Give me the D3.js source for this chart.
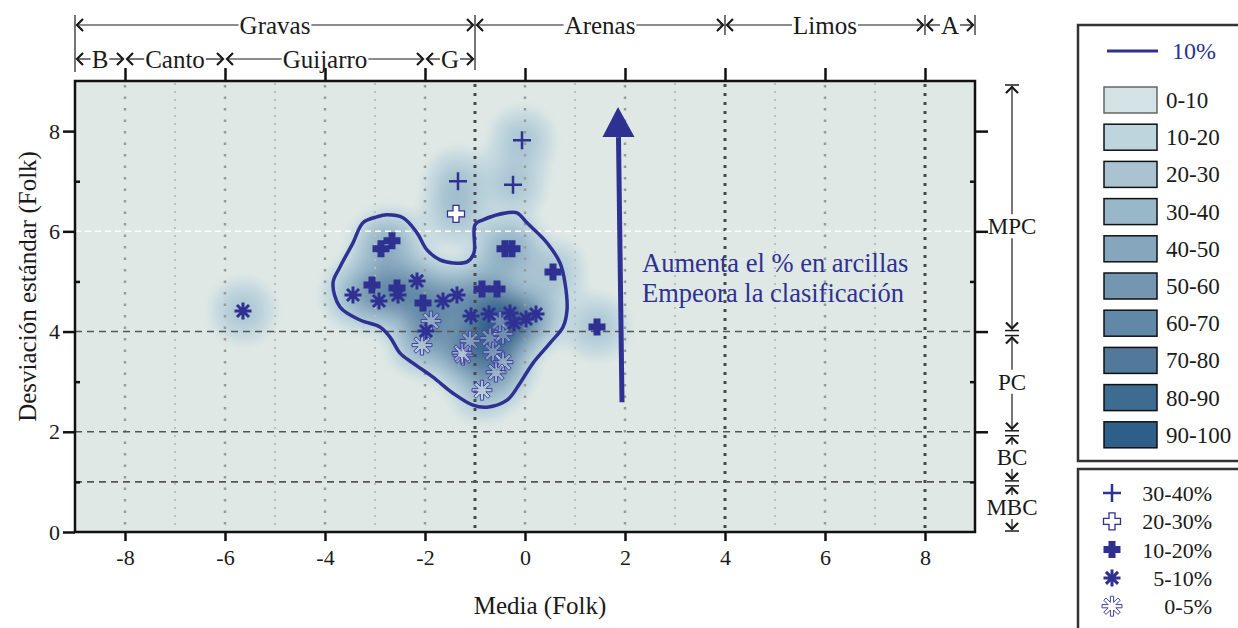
<!DOCTYPE html>
<html>
<head>
<meta charset="utf-8">
<script src="https://cdn.jsdelivr.net/npm/d3@7"></script>
<style>
  body { margin: 0; background: #fff; }
  text { font-family: "Liberation Serif", "Times New Roman", serif; fill: #1a1a1a; }
</style>
</head>
<body>
<svg></svg>
<script>
const WIDTH = 1238;
const HEIGHT = 628;
const plotX = 75, plotY = 81, plotW = 900, plotH = 451;
const ink = "#2e3192";
const plotBg = "#dfe8e4";

// axes
const xTicks = [-8, -6, -4, -2, 0, 2, 4, 6, 8];
const xOddGrid = [-7, -5, -3, 1, 3, 5, 7];
const xLimits = [-1, 4, 8];
const yTicks = [0, 2, 4, 6, 8];
const yMinor = [1, 3, 5, 7];
const yDashed = [1, 2, 4];
const yWhite = [6];

// class brackets
const sizeClasses = [["Gravas", -9, -1], ["Arenas", -1, 4], ["Limos", 4, 8], ["A", 8, 9]];
const gravelClasses = [["B", -9, -8], ["Canto", -8, -6], ["Guijarro", -6, -2], ["G", -2, -1]];
const sortClasses = [["MPC", 4, 9, 6.1], ["PC", 2, 4, 3], ["BC", 1, 2, 1.5], ["MBC", 0, 1, 0.5]];

// density legend
const densityLabels = ["0-10", "10-20", "20-30", "30-40", "40-50", "50-60", "60-70", "70-80", "80-90", "90-100"];
const densityColors = ["#d3e3e6", "#bfd5dd", "#a9c3d1", "#98b7c9", "#86a6bd", "#7596b0", "#6189a7", "#52789a", "#3e6c91", "#2e5f88"];

// samples: [media, desviacion], grouped by clay %
const pts3040 = [[-0.06, 7.82], [-1.34, 7.0], [-0.24, 6.93]];
const pts2030 = [[-1.38, 6.35]];
const pts1020 = [[-2.88, 5.65], [-2.66, 5.81], [-0.40, 5.65], [-0.26, 5.65], [0.56, 5.19], [-3.06, 4.93],
  [-2.56, 4.87], [-2.04, 4.57], [-0.86, 4.85], [-0.56, 4.85], [1.44, 4.09]];
const pts0510 = [[-5.64, 4.41], [-3.44, 4.73], [-2.92, 4.61], [-2.16, 5.01], [-2.54, 4.73], [-1.64, 4.61],
  [-1.36, 4.73], [-1.98, 4.01], [-1.08, 4.31], [-0.72, 4.35], [-0.30, 4.37], [-0.22, 4.17], [0.02, 4.25], [0.22, 4.35]];
const pts0005 = [[-1.88, 4.21], [-2.06, 3.73], [-1.24, 3.53], [-0.86, 2.83], [-1.10, 3.81], [-1.26, 3.57],
  [-0.70, 3.87], [-0.44, 3.95], [-0.64, 3.59], [-0.44, 3.39], [-0.58, 3.19], [-0.50, 4.20]];

// 10% contour
const contour10 = [[-2.76, 6.33], [-2.44, 6.27], [-2.16, 5.97], [-1.96, 5.63], [-1.70, 5.43], [-1.44, 5.37],
  [-1.16, 5.39], [-1.02, 5.57], [-1.00, 6.13], [-0.84, 6.23], [-0.36, 6.37], [-0.16, 6.37], [0.04, 6.17],
  [0.44, 5.77], [0.70, 5.37], [0.80, 4.97], [0.84, 4.43], [0.76, 4.09], [0.50, 3.77], [0.16, 3.37],
  [-0.10, 2.97], [-0.36, 2.63], [-0.76, 2.49], [-1.04, 2.53], [-1.44, 2.77], [-1.84, 3.09], [-2.24, 3.37],
  [-2.50, 3.57], [-2.70, 3.89], [-2.90, 4.09], [-3.30, 4.23], [-3.70, 4.49], [-3.84, 4.97], [-3.70, 5.29],
  [-3.44, 5.77], [-3.24, 6.17], [-2.96, 6.29]];

const trendArrow = [[1.94, 2.59], [1.87, 7.88], [1.86, 8.48]];
const trendText = ["Aumenta el % en arcillas", "Empeora la clasificación"];

const markerLegend = [["thin", "30-40%"], ["open", "20-30%"], ["cross", "10-20%"], ["star", "5-10%"], ["openstar", "0-5%"]];

var svg = d3.select("svg").attr("width", WIDTH).attr("height", HEIGHT);

var x = d3.scaleLinear().domain([-9, 9]).range([plotX, plotX + plotW]);
var y = d3.scaleLinear().domain([0, 9]).range([plotY + plotH, plotY]);

svg.append("rect").attr("x", plotX).attr("y", plotY).attr("width", plotW).attr("height", plotH).attr("fill", plotBg);

// density shading
svg.append("defs").append("filter").attr("id", "blur")
  .attr("x", -0.1).attr("y", -0.1).attr("width", 1.2).attr("height", 1.2)
  .append("feGaussianBlur").attr("stdDeviation", 5);

var allPts = [].concat(pts3040, pts2030, pts1020, pts0510, pts0005);
var dens = d3.contourDensity()
  .x((d) => x(d[0]) - plotX)
  .y((d) => y(d[1]) - plotY)
  .size([plotW, plotH])
  .bandwidth(16)
  .cellSize(2)
  .thresholds(40)(allPts);
var maxv = d3.max(dens, (d) => d.value);
var shade = d3.piecewise(d3.interpolateRgb, [plotBg].concat(densityColors));

svg.append("g")
  .attr("transform", `translate(${plotX},${plotY})`)
  .attr("filter", "url(#blur)")
  .selectAll("path")
  .data(dens)
  .enter()
  .append("path")
  .attr("d", d3.geoPath())
  .attr("fill", (d) => shade(Math.min(1, 0.1 + Math.pow(d.value / maxv, 0.85) * 0.95)));

// grid
var grid = svg.append("g");
grid.selectAll("line.even").data(xTicks.filter((d) => xLimits.indexOf(d) < 0)).enter().append("line")
  .attr("x1", (d) => x(d)).attr("x2", (d) => x(d)).attr("y1", plotY + 4).attr("y2", plotY + plotH)
  .attr("stroke", "#9a9a9a").attr("stroke-width", 2.5).attr("stroke-dasharray", "2.5,9");
grid.selectAll("line.odd").data(xOddGrid).enter().append("line")
  .attr("x1", (d) => x(d)).attr("x2", (d) => x(d)).attr("y1", plotY + 2).attr("y2", plotY + plotH)
  .attr("stroke", "#bdbdbd").attr("stroke-width", 2).attr("stroke-dasharray", "2,6");
grid.selectAll("line.lim").data(xLimits).enter().append("line")
  .attr("x1", (d) => x(d)).attr("x2", (d) => x(d)).attr("y1", plotY + 3).attr("y2", plotY + plotH)
  .attr("stroke", "#4a4a4a").attr("stroke-width", 3).attr("stroke-dasharray", "3,6");
grid.selectAll("line.hd").data(yDashed).enter().append("line")
  .attr("x1", plotX).attr("x2", plotX + plotW).attr("y1", (d) => y(d)).attr("y2", (d) => y(d))
  .attr("stroke", "#555").attr("stroke-width", 1.6).attr("stroke-dasharray", "7,5");
grid.selectAll("line.hw").data(yWhite).enter().append("line")
  .attr("x1", plotX).attr("x2", plotX + plotW).attr("y1", (d) => y(d)).attr("y2", (d) => y(d))
  .attr("stroke", "#fff").attr("stroke-width", 1.5).attr("stroke-dasharray", "6,4");

// 10% contour
svg.append("path")
  .datum(contour10)
  .attr("d", d3.line().x((d) => x(d[0])).y((d) => y(d[1])).curve(d3.curveCatmullRomClosed.alpha(0.5)))
  .attr("fill", "none").attr("stroke", ink).attr("stroke-width", 3.5);

// trend arrow
svg.append("line")
  .attr("x1", x(trendArrow[0][0])).attr("y1", y(trendArrow[0][1]))
  .attr("x2", x(trendArrow[1][0])).attr("y2", y(trendArrow[1][1]))
  .attr("stroke", ink).attr("stroke-width", 5);
var tip = trendArrow[2], base = trendArrow[1];
svg.append("path")
  .attr("d", `M${x(tip[0])},${y(tip[1])}L${x(base[0]) + 16},${y(base[1])}L${x(base[0]) - 16},${y(base[1])}Z`)
  .attr("fill", ink);
svg.selectAll("text.trend").data(trendText).enter().append("text")
  .attr("x", x(2.34)).attr("y", (d, i) => y(5.19) + i * 30)
  .attr("font-size", 26.5).style("fill", ink).text((d) => d);

// markers
function starOutline(r, w) {
  var pts = [], g = w / Math.sin(Math.PI / 8);
  for (var k = 0; k < 8; k++) {
    var t = (k * Math.PI) / 4, c = Math.cos(t), s = Math.sin(t);
    pts.push([r * c + w * s, r * s - w * c]);
    pts.push([r * c - w * s, r * s + w * c]);
    pts.push([g * Math.cos(t + Math.PI / 8), g * Math.sin(t + Math.PI / 8)]);
  }
  return "M" + pts.map((p) => p[0].toFixed(2) + "," + p[1].toFixed(2)).join("L") + "Z";
}

function drawMarker(g, type) {
  if (type == "thin") {
    g.append("path").attr("d", "M-9,0H9M0,-9V9").attr("stroke", ink).attr("stroke-width", 2.5);
  } else if (type == "open" || type == "cross") {
    var a = type == "open" ? 3 : 3.5, b = 8.5;
    g.append("path")
      .attr("d", `M${-a},${-b}H${a}V${-a}H${b}V${a}H${a}V${b}H${-a}V${a}H${-b}V${-a}H${-a}Z`)
      .attr("fill", type == "open" ? "#fff" : ink)
      .attr("stroke", ink).attr("stroke-width", type == "open" ? 1.3 : 0);
  } else if (type == "star") {
    var dd = "";
    for (var k = 0; k < 4; k++) {
      var ang = (k * Math.PI) / 4;
      var cx = Math.cos(ang) * 8.5, cy = Math.sin(ang) * 8.5;
      dd += `M${-cx},${-cy}L${cx},${cy}`;
    }
    g.append("path").attr("d", dd).attr("stroke", ink).attr("stroke-width", 3);
  } else {
    g.append("path").attr("d", starOutline(10, 1.6))
      .attr("fill", "#fff").attr("fill-opacity", 0.3)
      .attr("stroke", "#4345a6").attr("stroke-width", 1);
  }
}

[[pts0005, "openstar"], [pts0510, "star"], [pts1020, "cross"], [pts2030, "open"], [pts3040, "thin"]].forEach((s) => {
  svg.append("g").selectAll("g").data(s[0]).enter().append("g")
    .attr("transform", (d) => `translate(${x(d[0])},${y(d[1])})`)
    .each(function () { drawMarker(d3.select(this), s[1]); });
});

// frame and axes
svg.append("rect").attr("x", plotX).attr("y", plotY).attr("width", plotW).attr("height", plotH)
  .attr("fill", "none").attr("stroke", "#111").attr("stroke-width", 2.5);

function styleAxis(g, size) {
  g.select(".domain").remove();
  g.selectAll("line").attr("stroke", "#111").attr("stroke-width", 2.5);
  g.selectAll("text").attr("font-size", size).style("font-family", "Liberation Serif").style("fill", "#1a1a1a");
}

svg.append("g").attr("transform", `translate(0,${plotY + plotH})`)
  .call(d3.axisBottom(x).tickValues(xTicks).tickSize(9).tickPadding(8).tickFormat((d) => String(d)))
  .call((g) => styleAxis(g, 22));
svg.append("g").attr("transform", `translate(0,${plotY})`)
  .call(d3.axisTop(x).tickValues(xTicks).tickSize(13).tickFormat(""))
  .call((g) => styleAxis(g, 22));
svg.append("g").attr("transform", `translate(${plotX},0)`)
  .call(d3.axisLeft(y).tickValues(yTicks).tickSize(12).tickPadding(3).tickFormat((d) => String(d)))
  .call((g) => styleAxis(g, 22));
svg.append("g").attr("transform", `translate(${plotX},0)`)
  .call(d3.axisLeft(y).tickValues(yMinor).tickSize(-5).tickFormat(""))
  .call((g) => styleAxis(g, 22));
svg.append("g").attr("transform", `translate(${plotX + plotW},0)`)
  .call(d3.axisRight(y).tickValues(yTicks.slice(1)).tickSize(13).tickFormat(""))
  .call((g) => styleAxis(g, 22));
svg.append("g").attr("transform", `translate(${plotX + plotW},0)`)
  .call(d3.axisRight(y).tickValues(yMinor).tickSize(-5).tickFormat(""))
  .call((g) => styleAxis(g, 22));

svg.append("text").attr("x", x(0.3)).attr("y", 614).attr("text-anchor", "middle")
  .attr("font-size", 25).text("Media (Folk)");
svg.append("text").attr("transform", `translate(36,${y(4.9)}) rotate(-90)`).attr("text-anchor", "middle")
  .attr("font-size", 25).text("Desviación estándar (Folk)");

// brackets
function chevron(g, px, py, dir) {
  var s = 6, d;
  if (dir == "l") d = `M${px + s},${py - s}L${px},${py}L${px + s},${py + s}`;
  if (dir == "r") d = `M${px - s},${py - s}L${px},${py}L${px - s},${py + s}`;
  if (dir == "u") d = `M${px - s},${py + s}L${px},${py}L${px + s},${py + s}`;
  if (dir == "d") d = `M${px - s},${py - s}L${px},${py}L${px + s},${py - s}`;
  g.append("path").attr("d", d).attr("fill", "none").attr("stroke", "#1a1a1a").attr("stroke-width", 2.2);
}

var br = svg.append("g");
function hBracket(c, ly, base) {
  var x1 = x(c[1]) + 2, x2 = x(c[2]) - 2, m = (x1 + x2) / 2;
  var t = br.append("text").attr("x", m).attr("y", base).attr("text-anchor", "middle").attr("font-size", 25).text(c[0]);
  var w = t.node().getComputedTextLength();
  br.append("line").attr("x1", x1).attr("x2", m - w / 2 - 1).attr("y1", ly).attr("y2", ly).attr("stroke", "#1a1a1a").attr("stroke-width", 1.2);
  br.append("line").attr("x1", m + w / 2 + 1).attr("x2", x2).attr("y1", ly).attr("y2", ly).attr("stroke", "#1a1a1a").attr("stroke-width", 1.2);
  chevron(br, x1, ly, "l");
  chevron(br, x2, ly, "r");
}
sizeClasses.forEach((c) => hBracket(c, 25, 34));
gravelClasses.forEach((c) => hBracket(c, 59, 68));
[[-9, 15, 72], [-1, 15, 70], [4, 15, 35], [8, 15, 35], [9, 15, 35]].forEach((b) => {
  br.append("line").attr("x1", x(b[0])).attr("x2", x(b[0])).attr("y1", b[1]).attr("y2", b[2])
    .attr("stroke", "#1a1a1a").attr("stroke-width", 1.2);
});

var bx = 1012;
sortClasses.forEach((c) => {
  var top = y(c[2]) + 4, bot = y(c[1]) - 1, ly = y(c[3]);
  br.append("text").attr("x", bx).attr("y", ly + 8).attr("text-anchor", "middle").attr("font-size", 23).text(c[0]);
  br.append("line").attr("x1", bx).attr("x2", bx).attr("y1", top + 1).attr("y2", Math.max(top + 1, ly - 12))
    .attr("stroke", "#1a1a1a").attr("stroke-width", 1.2);
  br.append("line").attr("x1", bx).attr("x2", bx).attr("y1", Math.min(bot - 1, ly + 12)).attr("y2", bot - 1)
    .attr("stroke", "#1a1a1a").attr("stroke-width", 1.2);
  chevron(br, bx, top + 2, "u");
  chevron(br, bx, bot - 2, "d");
  br.append("line").attr("x1", bx - 7).attr("x2", bx + 7).attr("y1", top).attr("y2", top).attr("stroke", "#1a1a1a").attr("stroke-width", 1.5);
  br.append("line").attr("x1", bx - 7).attr("x2", bx + 7).attr("y1", bot).attr("y2", bot).attr("stroke", "#1a1a1a").attr("stroke-width", 1.5);
});

// legend 1: shading
var lg = svg.append("g");
lg.append("rect").attr("x", 1078).attr("y", 25).attr("width", 175).attr("height", 436)
  .attr("fill", "#fff").attr("stroke", "#333").attr("stroke-width", 2.5);
lg.append("line").attr("x1", 1107).attr("x2", 1158).attr("y1", 51).attr("y2", 51).attr("stroke", ink).attr("stroke-width", 3);
lg.append("text").attr("x", 1172).attr("y", 59).attr("font-size", 24).style("fill", ink).text("10%");
var sw = lg.selectAll("g.sw").data(densityLabels).enter().append("g")
  .attr("transform", (d, i) => `translate(1104,${87 + i * 37.2})`);
sw.append("rect").attr("width", 53).attr("height", 26)
  .attr("fill", (d, i) => densityColors[i]).attr("stroke", (d, i) => (i == 0 ? "#666" : "#111")).attr("stroke-width", 1.5);
sw.append("text").attr("x", 62).attr("y", 21).attr("font-size", 23).text((d) => d);

// legend 2: markers
var lm = svg.append("g");
lm.append("rect").attr("x", 1078).attr("y", 469).attr("width", 175).attr("height", 175)
  .attr("fill", "#fff").attr("stroke", "#333").attr("stroke-width", 2.5);
var mk = lm.selectAll("g.mk").data(markerLegend).enter().append("g")
  .attr("transform", (d, i) => `translate(1112,${493 + i * 28.3})`);
mk.each(function (d) { drawMarker(d3.select(this), d[0]); });
mk.append("text").attr("x", 100).attr("y", 8).attr("text-anchor", "end").attr("font-size", 22).text((d) => d[1]);
</script>
</body>
</html>
